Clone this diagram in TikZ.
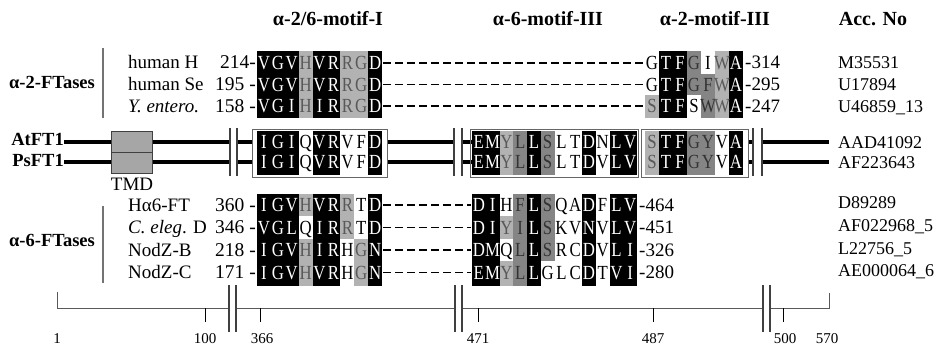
\documentclass[tikz,border=0pt]{standalone}
\usepackage{fontspec}
\setmainfont{Liberation Serif}
\colorlet{fillk}{black}
\colorlet{filll}{black!30}
\colorlet{fillm}{black!48}
\colorlet{fillw}{white}
\colorlet{textk}{white}
\colorlet{textl}{black!65}
\colorlet{textm}{black!80}
\colorlet{textw}{black}
\tikzset{
  res/.style={anchor=base, inner sep=0pt, font=\fontsize{20}{20}\selectfont},
  lab/.style={anchor=base west, inner sep=0pt, font=\fontsize{19}{19}\selectfont},
  acc/.style={anchor=base west, inner sep=0pt, font=\fontsize{18}{18}\selectfont},
  num/.style={anchor=base east, inner sep=0pt, font=\fontsize{19.5}{19.5}\selectfont},
  hdr/.style={anchor=base, inner sep=0pt, font=\bfseries\fontsize{20}{20}\selectfont},
  grp/.style={anchor=center, inner sep=0pt, font=\bfseries\fontsize{18.5}{18.5}\selectfont},
  plab/.style={anchor=base east, inner sep=0pt, font=\bfseries\fontsize{18.5}{18.5}\selectfont},
  backbone/.style={line width=3.6pt},
  brk/.style={line width=1.1pt, draw=black!75},
  gapline/.style={dash pattern=on 7.5pt off 4.5pt, line width=1.4pt},
  grpbar/.style={line width=1.6pt, draw=black!55},
  ruler/.style={line width=0.9pt, draw=black!65},
  tickline/.style={line width=1pt},
  axl/.style={anchor=base, inner sep=0pt, font=\fontsize{15}{15}\selectfont},
  boxo/.style={draw=black!60, line width=0.8pt},
}
\newcommand\resrow[6]{% x0, w, ytext, ytop, ybot, list
  \foreach \r/\s [count=\i from 0] in {#6} {
    \fill[fill=fill\s] ({#1+\i*#2},#4) rectangle ({#1+(\i+1)*#2},#5);
  }
  \foreach \r/\s [count=\i from 0] in {#6} {
    \node[res, text=text\s] at ({#1+(\i+0.5)*#2},{#3+6.8}) {\scalebox{0.84}[1]{\r}};
  }}
\begin{document}
\begin{tikzpicture}[x=1pt,y=-1pt]
\useasboundingbox (0,0) rectangle (937,345);
\fill[white] (0,0) rectangle (937,345);

% headers
\node[hdr] (h1) at (328,26) {α-2/6-motif-I};
\node[hdr] (h2) at (548,26) {α-6-motif-III};
\node[hdr] (h3) at (715,26) {α-2-motif-III};
\node[hdr] (h4) at (873,26) {Acc. No};

% group labels and bars
\node[grp] (g2) at (52,82) {α-2-FTases};
\node[grp] (g6) at (52,240) {α-6-FTases};
\draw[grpbar] (103,48) -- (103,118);
\draw[grpbar] (103,206) -- (103,283);

% ---------- alpha-2 rows ----------
\node[lab] (s1) at (128,69) {human H};
\node[lab] (s2) at (128,90.5) {human Se};
\node[lab] (s3) at (128,112) {\textit{Y. entero.}};
\node[num] (n1) at (256,69) {214-};
\node[num] (n2) at (256,90.5) {195 -};
\node[num] (n3) at (256,112) {158 -};
\draw[gapline] (383,63) -- (644,63);
\draw[gapline] (383,84.5) -- (644,84.5);
\draw[gapline] (383,106) -- (644,106);
\resrow{257}{13.9}{63}{51}{73.75}{V/k,G/k,V/k,H/l,V/k,R/k,R/l,G/l,D/k}
\resrow{257}{13.9}{84.5}{73.75}{95.25}{V/k,G/k,V/k,H/l,V/k,R/k,R/l,G/l,D/k}
\resrow{257}{13.9}{106}{95.25}{118}{V/k,G/k,I/k,H/l,I/k,R/k,R/l,G/l,D/k}
\resrow{645}{14}{63}{51}{73.75}{G/w,T/k,F/k,G/m,I/w,W/l,A/k}
\resrow{645}{14}{84.5}{73.75}{95.25}{G/w,T/k,F/k,G/m,F/m,W/l,A/k}
\resrow{645}{14}{106}{95.25}{118}{S/l,T/k,F/k,S/w,W/m,W/l,A/k}
\node[lab] (e1) at (745,69) {-314};
\node[lab] (e2) at (745,90.5) {-295};
\node[lab] (e3) at (745,112) {-247};
\node[acc] (a1) at (838,69) {M35531};
\node[acc] (a2) at (838,90.5) {U17894};
\node[acc] (a3) at (838,112) {U46859\_13};

% ---------- plant rows ----------
\node[plab] (p1) at (64,145) {AtFT1};
\node[plab] (p2) at (64,166) {PsFT1};
\foreach \yy in {142,162} {
  \draw[backbone] (64,\yy) -- (111,\yy);
  \draw[backbone] (152,\yy) -- (230,\yy);
  \draw[backbone] (237,\yy) -- (252,\yy);
  \draw[backbone] (387,\yy) -- (454,\yy);
  \draw[backbone] (462,\yy) -- (472,\yy);
  \draw[backbone] (748,\yy) -- (753,\yy);
  \draw[backbone] (762,\yy) -- (829,\yy);
}
\draw[fill=black!35, draw=black!75, line width=0.8pt] (111,131) rectangle (152,152);
\draw[fill=black!35, draw=black!75, line width=0.8pt] (111,152) rectangle (152,173);
\node[lab, anchor=base] (tmd) at (132,190) {TMD};
\foreach \xx in {230,237,454,462,753,762} {
  \draw[brk] (\xx,128) -- (\xx,176);
}
\draw[boxo] (252,129) rectangle (387,177);
\draw[boxo] (470,129) rectangle (638,177);
\draw[boxo] (641,129) rectangle (748,177);
\resrow{257}{13.9}{142}{131}{152}{I/k,G/k,I/k,Q/w,V/k,R/k,V/w,F/w,D/k}
\resrow{257}{13.9}{162}{152}{175}{I/k,G/k,I/k,Q/w,V/k,R/k,V/w,F/w,D/k}
\resrow{472}{13.75}{142}{131}{152}{E/k,M/k,Y/l,L/m,L/k,S/m,L/w,T/w,D/k,N/w,L/k,V/k}
\resrow{472}{13.75}{162}{152}{175}{E/k,M/k,Y/l,L/m,L/k,S/m,L/w,T/w,D/k,V/w,L/k,V/k}
\resrow{645}{14}{142}{131}{152}{S/l,T/k,F/k,G/m,Y/m,V/w,A/k}
\resrow{645}{14}{162}{152}{175}{S/l,T/k,F/k,G/m,Y/m,V/w,A/k}
\node[acc] (a4) at (838,148) {AAD41092};
\node[acc] (a5) at (838,168) {AF223643};

% ---------- alpha-6 rows ----------
\node[lab] (s4) at (128,211) {Hα6-FT};
\node[lab] (s5) at (128,233.5) {\textit{C. eleg}. D};
\node[lab] (s6) at (128,256) {NodZ-B};
\node[lab] (s7) at (128,278.5) {NodZ-C};
\node[num] (n4) at (256,211) {360 -};
\node[num] (n5) at (256,233.5) {346 -};
\node[num] (n6) at (256,256) {218 -};
\node[num] (n7) at (256,278.5) {171 -};
\draw[gapline] (383,205) -- (471,205);
\draw[gapline] (383,227.5) -- (471,227.5);
\draw[gapline] (383,250) -- (471,250);
\draw[gapline] (383,272.5) -- (471,272.5);
\resrow{257}{13.9}{205}{194}{216.25}{I/k,G/k,V/k,H/l,V/k,R/k,R/l,T/w,D/k}
\resrow{257}{13.9}{227.5}{216.25}{238.75}{V/k,G/k,L/k,Q/w,I/k,R/k,R/l,T/w,D/k}
\resrow{257}{13.9}{250}{238.75}{261.25}{I/k,G/k,V/k,H/l,I/k,R/k,H/w,G/l,N/k}
\resrow{257}{13.9}{272.5}{261.25}{286}{I/k,G/k,V/k,H/l,V/k,R/k,H/w,G/l,N/k}
\resrow{472}{13.75}{205}{194}{216.25}{D/k,I/k,H/w,F/m,L/k,S/m,Q/w,A/w,D/k,F/w,L/k,V/k}
\resrow{472}{13.75}{227.5}{216.25}{238.75}{D/k,I/k,Y/l,I/m,L/k,S/m,K/w,V/w,N/k,V/w,L/k,V/k}
\resrow{472}{13.75}{250}{238.75}{261.25}{D/k,M/k,Q/w,L/m,L/k,S/m,R/w,C/w,D/k,V/w,L/k,I/k}
\resrow{472}{13.75}{272.5}{261.25}{286}{E/k,M/k,Y/l,L/m,L/k,G/w,L/w,C/w,D/k,T/w,V/k,I/k}
\node[lab] (e4) at (639,211) {-464};
\node[lab] (e5) at (639,233.5) {-451};
\node[lab] (e6) at (639,256) {-326};
\node[lab] (e7) at (639,278.5) {-280};
\node[acc] (a6) at (838,208) {D89289};
\node[acc] (a7) at (838,231) {AF022968\_5};
\node[acc] (a8) at (838,254) {L22756\_5};
\node[acc] (a9) at (838,276) {AE000064\_6};

% ---------- ruler ----------
\draw[ruler] (57,292) -- (57,308) -- (229,308);
\draw[ruler] (236,308) -- (455,308);
\draw[ruler] (462,308) -- (763,308);
\draw[ruler] (770,308) -- (829,308) -- (829,293);
\foreach \xx in {205,260,478,653,783} {
  \draw[tickline] (\xx,308) -- (\xx,322);
}
\foreach \xx in {229,236,455,462,763,770} {
  \draw[brk] (\xx,285) -- (\xx,332);
}
\node[axl] (t1) at (57,343) {1};
\node[axl] (t2) at (205,343) {100};
\node[axl] (t3) at (262,343) {366};
\node[axl] (t4) at (478,343) {471};
\node[axl] (t5) at (653,343) {487};
\node[axl] (t6) at (785,343) {500};
\node[axl] (t7) at (827,343) {570};
\end{tikzpicture}
\end{document}
